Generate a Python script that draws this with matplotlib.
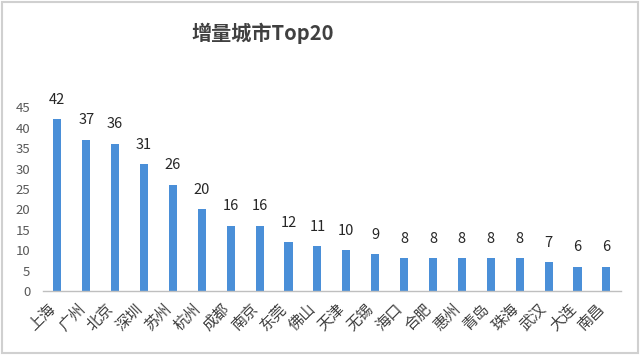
import matplotlib
matplotlib.use("Agg")
import matplotlib.pyplot as plt
from matplotlib.patches import Rectangle
from matplotlib.transforms import ScaledTranslation

plt.rcParams['font.family'] = ['Noto Sans CJK SC', 'DejaVu Sans']

cities = ["上海", "广州", "北京", "深圳", "苏州", "杭州", "成都", "南京", "东莞", "佛山",
          "天津", "无锡", "海口", "合肥", "惠州", "青岛", "珠海", "武汉", "大连", "南昌"]
values = [42, 37, 36, 31, 26, 20, 16, 16, 12, 11, 10, 9, 8, 8, 8, 8, 8, 7, 6, 6]
yticks = [0, 5, 10, 15, 20, 25, 30, 35, 40, 45]
title = "增量城市Top20"

fig = plt.figure(figsize=(6.4, 3.55), dpi=100)
ax = fig.add_axes([0.067, 0.180, 0.903, 0.518])
x = list(range(len(cities)))
bars = ax.bar(x, values, width=0.28, color="#4A8FD8", zorder=2)
ax.set_xlim(-0.5, len(cities) - 0.5)
ax.set_ylim(0, 45)
ax.set_yticks(yticks)
ax.tick_params(axis='y', length=0, labelsize=9.5, labelcolor="#595959", pad=9)
ax.tick_params(axis='x', length=0, labelsize=11, labelcolor="#404040", pad=11)
ax.set_xticks(x)
ax.set_xticklabels(cities, rotation=45, ha='right', va='center', rotation_mode='anchor')
off = ScaledTranslation(-3 / 72, 0, fig.dpi_scale_trans)
for lab in ax.get_xticklabels():
    lab.set_transform(lab.get_transform() + off)
for s in ['top', 'right', 'left']:
    ax.spines[s].set_visible(False)
ax.spines['bottom'].set_color("#BFBFBF")
ax.spines['bottom'].set_linewidth(1)
for xi, v in zip(x, values):
    ax.annotate(str(v), (xi, v), xytext=(0, 9), textcoords='offset points',
                ha='center', va='bottom', fontsize=10.5, color="#262626", annotation_clip=False)
fig.text(0.41, 0.905, title, ha='center', va='center', fontsize=14.5, fontweight='bold', color="#404040")
fig.patches.append(Rectangle((0.003, 0.006), 0.994, 0.988, transform=fig.transFigure,
                             fill=False, edgecolor="#D0D0D0", linewidth=1.5))
fig.savefig("out.png", dpi=100)
